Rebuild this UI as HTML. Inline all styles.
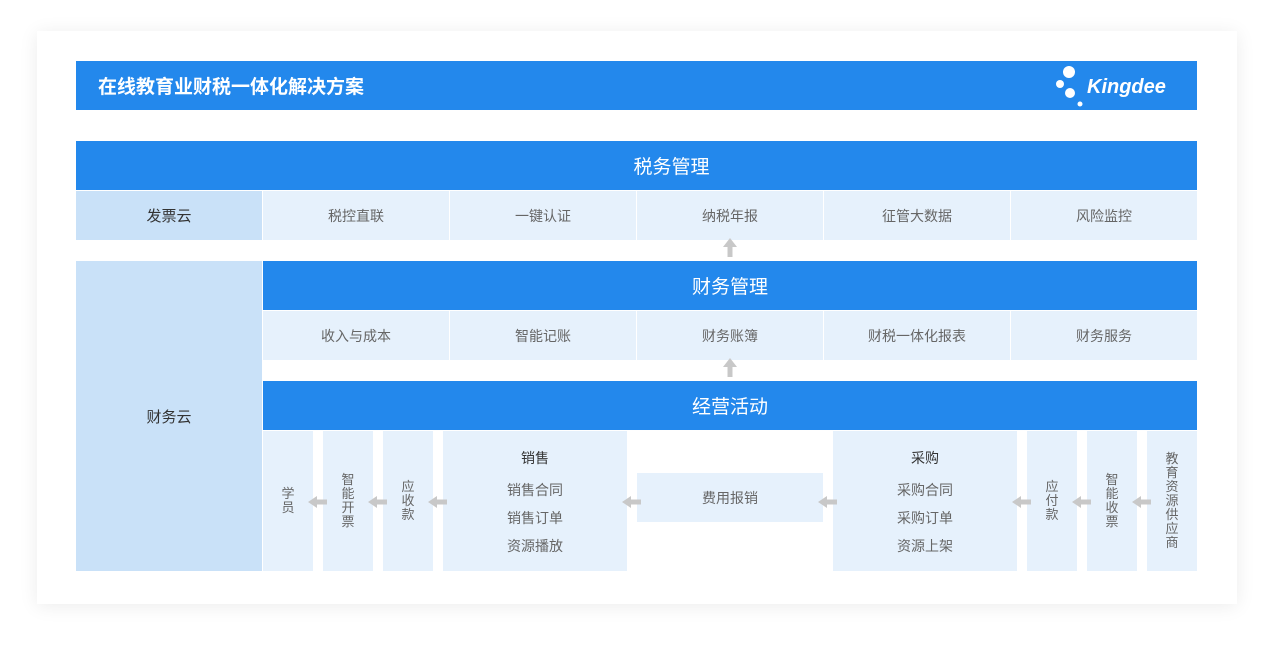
<!DOCTYPE html>
<html><head><meta charset="utf-8"><style>
*{margin:0;padding:0;box-sizing:border-box}
body{width:1274px;height:648px;background:#fff;position:relative;overflow:hidden;font-family:"Liberation Sans","Noto Sans CJK SC",sans-serif}
.card{position:absolute;left:37px;top:31px;width:1200px;height:573px;background:#fff;box-shadow:0 2px 18px rgba(0,0,0,0.08)}
.a{position:absolute;display:flex;align-items:center;justify-content:center}
.blue{background:#2388ec;color:#fff;font-size:19px}
.lc{background:#e6f1fc;color:#666;font-size:14px}
.dk{background:#c9e1f8;color:#333;font-size:15px}
.v{flex-direction:column;line-height:14px;font-size:13px;color:#666;background:#e6f1fc}
.v span{display:block}
.col{flex-direction:column;background:#e6f1fc;font-size:14px;color:#666;justify-content:flex-start;padding-top:17px;line-height:20px}
.col b{font-weight:normal;color:#333;margin-bottom:12px}
.col span{margin-bottom:8px}
svg.ar{position:absolute}
</style></head><body>
<div class="card"></div>
<div class="a blue" style="left:76px;top:61px;width:1121px;height:49px;justify-content:flex-start;padding-left:22px;font-size:19px;font-weight:bold">在线教育业财税一体化解决方案</div>
<svg style="position:absolute;left:1050px;top:62px" width="130" height="48">
<circle cx="19" cy="10" r="6" fill="#fff"/><circle cx="10" cy="22" r="4" fill="#fff"/><circle cx="20" cy="31" r="5" fill="#fff"/><circle cx="30" cy="42" r="2.5" fill="#fff"/>
<text x="37" y="31" fill="#fff" font-family="Liberation Sans" font-weight="bold" font-style="italic" font-size="20">Kingdee</text></svg>

<div class="a blue" style="left:76px;top:141px;width:1121px;height:49px;padding-left:70px">税务管理</div>
<div class="a dk" style="left:76px;top:191px;width:186px;height:49px">发票云</div>
<div class="a lc" style="left:263px;top:191px;width:186px;height:49px">税控直联</div>
<div class="a lc" style="left:450px;top:191px;width:186px;height:49px">一键认证</div>
<div class="a lc" style="left:637px;top:191px;width:186px;height:49px">纳税年报</div>
<div class="a lc" style="left:824px;top:191px;width:186px;height:49px">征管大数据</div>
<div class="a lc" style="left:1011px;top:191px;width:186px;height:49px">风险监控</div>

<div class="a dk" style="left:76px;top:261px;width:186px;height:310px">财务云</div>
<div class="a blue" style="left:263px;top:261px;width:934px;height:49px">财务管理</div>
<div class="a lc" style="left:263px;top:311px;width:186px;height:49px">收入与成本</div>
<div class="a lc" style="left:450px;top:311px;width:186px;height:49px">智能记账</div>
<div class="a lc" style="left:637px;top:311px;width:186px;height:49px">财务账簿</div>
<div class="a lc" style="left:824px;top:311px;width:186px;height:49px">财税一体化报表</div>
<div class="a lc" style="left:1011px;top:311px;width:186px;height:49px">财务服务</div>

<div class="a blue" style="left:263px;top:381px;width:934px;height:49px">经营活动</div>
<div class="a v" style="left:263px;top:431px;width:50px;height:140px"><span>学</span><span>员</span></div>
<div class="a v" style="left:323px;top:431px;width:50px;height:140px"><span>智</span><span>能</span><span>开</span><span>票</span></div>
<div class="a v" style="left:383px;top:431px;width:50px;height:140px"><span>应</span><span>收</span><span>款</span></div>
<div class="a col" style="left:443px;top:431px;width:184px;height:140px"><b>销售</b><span>销售合同</span><span>销售订单</span><span>资源播放</span></div>
<div class="a lc" style="left:637px;top:473px;width:186px;height:49px">费用报销</div>
<div class="a col" style="left:833px;top:431px;width:184px;height:140px"><b>采购</b><span>采购合同</span><span>采购订单</span><span>资源上架</span></div>
<div class="a v" style="left:1027px;top:431px;width:50px;height:140px"><span>应</span><span>付</span><span>款</span></div>
<div class="a v" style="left:1087px;top:431px;width:50px;height:140px"><span>智</span><span>能</span><span>收</span><span>票</span></div>
<div class="a v" style="left:1147px;top:431px;width:50px;height:140px"><span>教</span><span>育</span><span>资</span><span>源</span><span>供</span><span>应</span><span>商</span></div>

<svg class="ar" style="left:723px;top:238px" width="14" height="19"><path d="M7 0 L14 9 L9.5 9 L9.5 19 L4.5 19 L4.5 9 L0 9Z" fill="#c8c8c8"/></svg>
<svg class="ar" style="left:723px;top:358px" width="14" height="19"><path d="M7 0 L14 9 L9.5 9 L9.5 19 L4.5 19 L4.5 9 L0 9Z" fill="#c8c8c8"/></svg>

<svg width="0" height="0" style="position:absolute"><defs><path id="la" d="M0 6 L9 0 L9 3.5 L19 3.5 L19 8.5 L9 8.5 L9 12Z" fill="#c8c8c8"/></defs></svg>
<svg class="ar" style="left:308px;top:496px" width="19" height="12"><use href="#la"/></svg>
<svg class="ar" style="left:368px;top:496px" width="19" height="12"><use href="#la"/></svg>
<svg class="ar" style="left:428px;top:496px" width="19" height="12"><use href="#la"/></svg>
<svg class="ar" style="left:622px;top:496px" width="19" height="12"><use href="#la"/></svg>
<svg class="ar" style="left:818px;top:496px" width="19" height="12"><use href="#la"/></svg>
<svg class="ar" style="left:1012px;top:496px" width="19" height="12"><use href="#la"/></svg>
<svg class="ar" style="left:1072px;top:496px" width="19" height="12"><use href="#la"/></svg>
<svg class="ar" style="left:1132px;top:496px" width="19" height="12"><use href="#la"/></svg>
</body></html>
